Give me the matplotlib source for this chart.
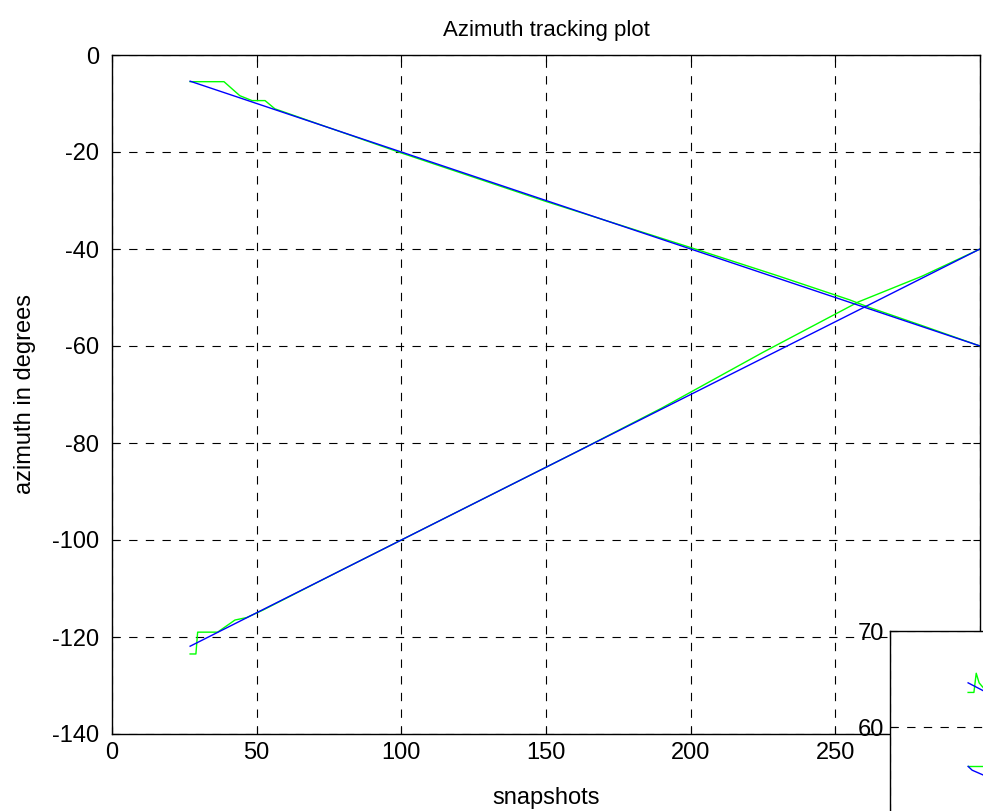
import matplotlib
matplotlib.use("Agg")
import matplotlib.pyplot as plt

plt.rcParams['font.family'] = ['Liberation Sans', 'DejaVu Sans']
plt.rcParams['lines.scale_dashes'] = False
plt.rcParams['axes.unicode_minus'] = False

# Azimuth tracks: estimated (green) and true (blue)
snap_desc_est = [27, 38.7, 44.2, 48.4, 52.9, 56.3, 100, 150, 200, 230, 255, 262, 280, 300]
az_desc_est = [-5.5, -5.5, -8.4, -9.4, -9.4, -11.1, -20.2, -30.2, -39.7, -45.5, -50.5, -52.1, -55.8, -60]

snap_asc_est = [27, 29, 29.6, 36.5, 42.5, 46.5, 52, 80, 120, 160, 190, 225, 258, 280, 300]
az_asc_est = [-123.5, -123.5, -119, -119, -116.5, -116, -114.5, -106, -94, -82, -72.8, -61.3, -50.9, -45.6, -40]

snap_true = [27, 50, 100, 150, 200, 250, 300]
az_desc_true = [-5.4, -10, -20, -30, -40, -50, -60]
az_asc_true = [-121.9, -115, -100, -85, -70, -55, -40]

# Elevation tracks (second panel)
snap_el1_est = [27, 29, 29.8, 30.8, 32.5, 34]
el1_est = [63.6, 63.6, 65.6, 64.6, 64.0, 63.8]
snap_el1_true = [27, 34]
el1_true = [64.6, 63.5]
snap_el2_est = [27, 34]
el2_est = [55.9, 55.9]
snap_el2_true = [27, 28.4, 32.2, 34]
el2_true = [55.9, 55.5, 55.0, 54.8]

x_ticks = [0, 50, 100, 150, 200, 250, 300]
az_ticks = [0, -20, -40, -60, -80, -100, -120, -140]
el_ticks = [40, 50, 60, 70]

GREEN = (0, 1, 0)
BLUE = (0, 0, 1)
FS = 17

fig = plt.figure(figsize=(9.83, 8.11), dpi=100)

def style_axes(ax):
    ax.grid(True, color='black', linestyle=(0, (6, 6)), linewidth=0.8)
    ax.tick_params(direction='in', top=True, right=True, length=5,
                   labelsize=FS, width=0.8)
    ax.tick_params(axis='y', pad=9)
    ax.tick_params(axis='x', pad=6)
    for s in ax.spines.values():
        s.set_linewidth(1.0)

ax = fig.add_axes([112 / 983, 1 - 734 / 811, 868 / 983, 679 / 811])
ax.plot(snap_desc_est, az_desc_est, color=GREEN, lw=1.0)
ax.plot(snap_asc_est, az_asc_est, color=GREEN, lw=1.0)
ax.plot(snap_true, az_desc_true, color=BLUE, lw=1.0)
ax.plot(snap_true, az_asc_true, color=BLUE, lw=1.0)
ax.set_xlim(0, 300)
ax.set_ylim(-140, 0)
ax.set_xticks(x_ticks)
ax.set_yticks(az_ticks)
style_axes(ax)
ax.set_title('Azimuth tracking plot', fontsize=16, pad=14)
ax.set_xlabel('snapshots', fontsize=FS, labelpad=16)
ax.set_ylabel('azimuth in degrees', fontsize=FS, labelpad=12)

# second panel, partly outside the canvas
h2 = 30 * 9.6
ax2 = fig.add_axes([890 / 983, (811 - 631 - h2) / 811, 868 / 983, h2 / 811])
ax2.plot(snap_el1_est, el1_est, color=GREEN, lw=1.0)
ax2.plot(snap_el2_est, el2_est, color=GREEN, lw=1.0)
ax2.plot(snap_el1_true, el1_true, color=BLUE, lw=1.0)
ax2.plot(snap_el2_true, el2_true, color=BLUE, lw=1.0)
ax2.set_xlim(0, 300)
ax2.set_ylim(40, 70)
ax2.set_xticks(x_ticks)
ax2.set_yticks(el_ticks)
style_axes(ax2)
ax2.tick_params(axis='y', pad=4)
ax2.set_facecolor('white')

fig.savefig('out.png', dpi=100)
